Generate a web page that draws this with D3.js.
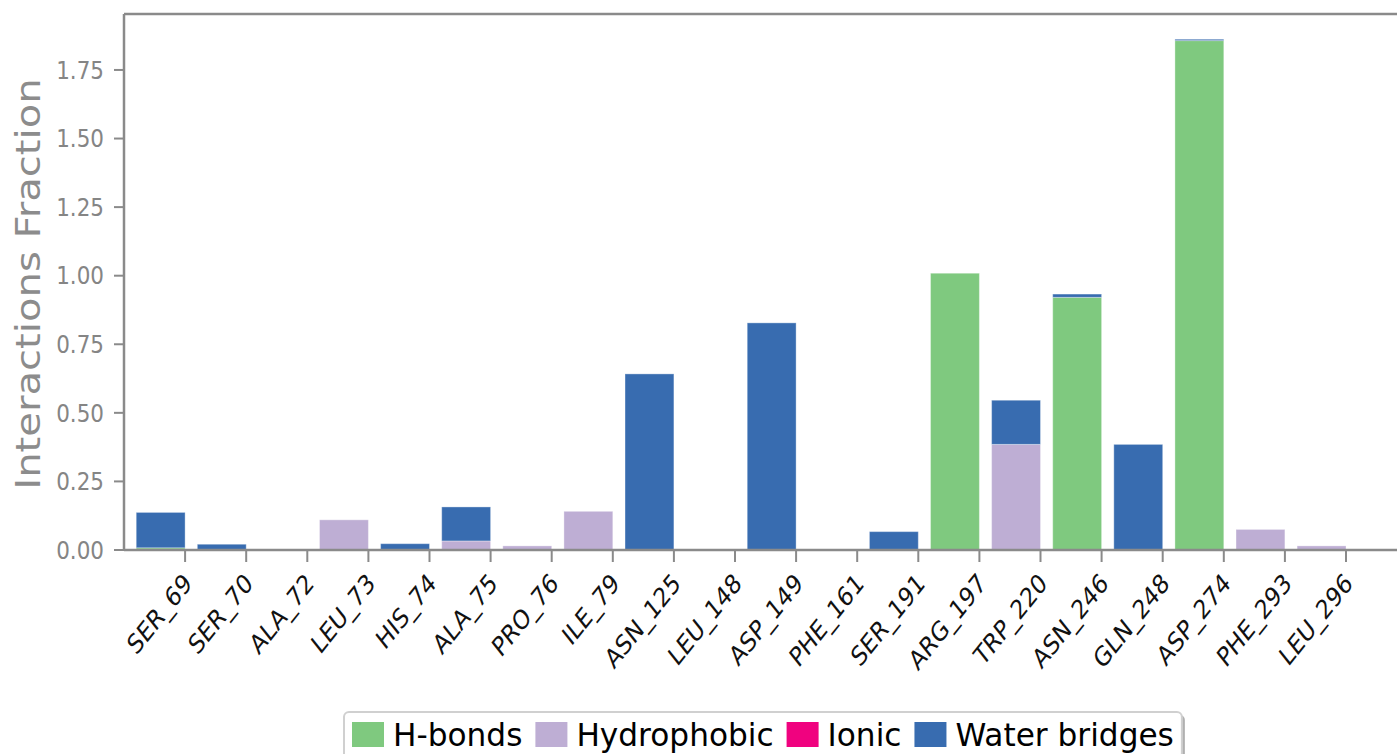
<!DOCTYPE html>
<html>
<head>
<meta charset="utf-8">
<script src="https://cdn.jsdelivr.net/npm/d3@7"></script>
<style>
  html, body { margin: 0; padding: 0; background: #fff; overflow: hidden; }
  svg { display: block; font-family: "DejaVu Sans", sans-serif; }
</style>
</head>
<body>
<svg id="chart" width="1397" height="754"></svg>
<script>
// ---- data ----
const residues = ["SER_69","SER_70","ALA_72","LEU_73","HIS_74","ALA_75","PRO_76","ILE_79","ASN_125","LEU_148",
                  "ASP_149","PHE_161","SER_191","ARG_197","TRP_220","ASN_246","GLN_248","ASP_274","PHE_293","LEU_296"];
const hbonds      = [0.008,0,0,0,0,0,0,0,0,0,0,0,0,1.009,0,0.921,0,1.857,0,0];
const hydrophobic = [0,0,0,0.110,0,0.033,0.015,0.141,0,0,0,0,0,0,0.385,0,0,0,0.075,0.015];
const ionic       = [0,0,0,0,0,0,0,0,0,0,0,0,0,0,0,0,0,0,0,0];
const waterBridges= [0.129,0.021,0,0,0.023,0.124,0,0,0.642,0,0.828,0,0.067,0,0.161,0.012,0.385,0.005,0,0];
const seriesNames = ["H-bonds","Hydrophobic","Ionic","Water bridges"];
const seriesColors= ["#7fc97f","#beaed4","#f0027f","#386cb0"];
const yTicks = [0,0.25,0.5,0.75,1.0,1.25,1.5,1.75];
const yLabel = "Interactions Fraction";

// ---- layout ----
const svg = d3.select("#chart");
const mLeft = 124, mTop = 14, mBottom = 550;
const step = 61.1;
const x = d3.scaleLinear().domain([-1, 20]).range([mLeft, mLeft + 21 * step]);
const y = d3.scaleLinear().domain([0, 1.954]).range([mBottom, mTop]);
const axisColor = "#8a8a8a";

const table = residues.map((r, i) => ({
  res: r, i: i,
  "H-bonds": hbonds[i], "Hydrophobic": hydrophobic[i], "Ionic": ionic[i], "Water bridges": waterBridges[i]
}));
const stacked = d3.stack().keys(seriesNames)(table);

// bars
const barW = 0.8;
svg.append("g").selectAll("g").data(stacked).join("g")
  .attr("fill", (d, k) => seriesColors[k])
  .selectAll("rect").data(d => d.filter(p => p[1] - p[0] > 0)).join("rect")
  .attr("x", p => x(p.data.i - barW))
  .attr("width", p => x(p.data.i) - x(p.data.i - barW))
  .attr("y", p => y(p[1]))
  .attr("height", p => y(p[0]) - y(p[1]))
  .attr("stroke", "#ffffff").attr("stroke-opacity", 0.35).attr("stroke-width", 1);

// spines
svg.append("line").attr("x1", mLeft).attr("x2", 1397).attr("y1", mTop).attr("y2", mTop)
  .attr("stroke", axisColor).attr("stroke-width", 2.5);
svg.append("line").attr("x1", mLeft).attr("x2", mLeft).attr("y1", mTop).attr("y2", mBottom)
  .attr("stroke", axisColor).attr("stroke-width", 2.5);
svg.append("line").attr("x1", mLeft).attr("x2", 1397).attr("y1", mBottom).attr("y2", mBottom)
  .attr("stroke", axisColor).attr("stroke-width", 2.5);

// y axis ticks
const yg = svg.append("g");
yTicks.forEach(t => {
  yg.append("line").attr("x1", mLeft - 10).attr("x2", mLeft).attr("y1", y(t)).attr("y2", y(t))
    .attr("stroke", axisColor).attr("stroke-width", 2);
  yg.append("text").attr("transform", `translate(${mLeft - 20},${y(t)}) scale(1,1.12)`)
    .attr("text-anchor", "end").attr("dy", "0.36em")
    .attr("font-size", 21.5).attr("fill", "#858585").text(t.toFixed(2));
});

// x axis ticks
const xg = svg.append("g");
residues.forEach((r, i) => {
  xg.append("line").attr("x1", x(i)).attr("x2", x(i)).attr("y1", mBottom).attr("y2", mBottom + 12)
    .attr("stroke", axisColor).attr("stroke-width", 2);
  xg.append("text").attr("transform", `translate(${x(i) + 8},${mBottom + 35}) scale(1,1.25) rotate(-45)`)
    .attr("text-anchor", "end")
    .attr("font-size", 21.5).attr("fill", "#111").text(r);
});

// y label
svg.append("text").attr("transform", `translate(40,284) scale(1,1.18) rotate(-90)`)
  .attr("text-anchor", "middle").attr("font-size", 34).attr("fill", "#8c8c8c").text(yLabel);

// legend
const lg = svg.append("g");
const lx = 344, ly = 712, fs = 31.2;
let cx = lx + 8;
const items = lg.append("g");
seriesNames.forEach((name, k) => {
  items.append("rect").attr("x", cx).attr("y", ly + 10).attr("width", 32).attr("height", 25)
    .attr("fill", seriesColors[k]);
  const txt = items.append("text").attr("x", cx + 41).attr("y", ly + 34).attr("font-size", fs)
    .attr("fill", "#000").text(name);
  const w = txt.node().getComputedTextLength();
  cx = cx + 41 + w + 13;
});
const boxW = cx - 13 + 8 - lx;
lg.insert("rect", ":first-child").attr("x", lx).attr("y", ly).attr("width", boxW).attr("height", 46)
  .attr("rx", 5).attr("fill", "#fff").attr("stroke", "#d0d0d0").attr("stroke-width", 2);
lg.insert("rect", ":first-child").attr("x", lx + 3).attr("y", ly + 3).attr("width", boxW).attr("height", 46)
  .attr("rx", 5).attr("fill", "#b0b0b0");
</script>
</body>
</html>
